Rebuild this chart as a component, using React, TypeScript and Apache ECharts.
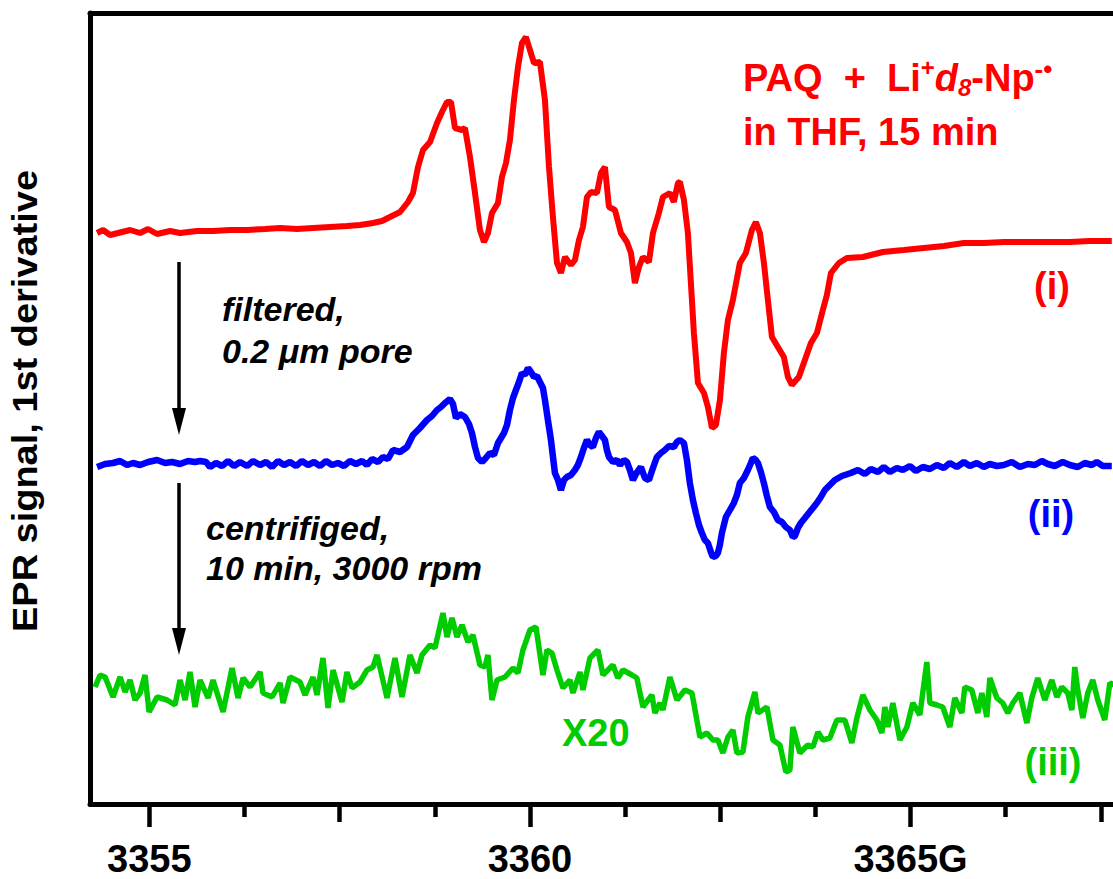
import React, { useEffect, useRef } from "react";
import * as echarts from "echarts";

const FONT = '"Liberation Sans", Arial, Helvetica, sans-serif';

// Magnetic field (G) and EPR signal (arbitrary units, offset per trace)
const redTrace: [number, number][] = [
  [3354.313,57.1],[3354.392,57.4],[3354.484,56.9],[3354.747,57.4],[3354.878,57.1],[3354.983,57.5],[3355.101,57.0],[3355.272,57.3],[3355.403,57.1],[3355.626,57.3],[3355.837,57.3],[3356.060,57.4],[3356.283,57.4],[3356.520,57.5],[3356.717,57.6],[3356.940,57.5],[3357.150,57.6],[3357.373,57.7],[3357.597,57.8],[3357.767,57.9],[3357.938,58.1],[3358.056,58.3],[3358.161,58.7],[3358.293,59.2],[3358.398,60.2],[3358.463,61.1],[3358.529,63.7],[3358.595,65.4],[3358.687,66.2],[3358.779,68.1],[3358.844,69.2],[3358.910,70.2],[3358.963,70.2],[3359.015,67.6],[3359.107,67.4],[3359.146,67.6],[3359.212,64.7],[3359.278,61.1],[3359.343,57.4],[3359.396,56.2],[3359.449,57.1],[3359.501,59.1],[3359.580,60.1],[3359.632,62.7],[3359.685,64.1],[3359.737,66.4],[3359.790,70.4],[3359.843,73.7],[3359.895,76.1],[3359.948,76.7],[3360.000,75.4],[3360.053,74.1],[3360.131,74.2],[3360.197,70.4],[3360.250,63.7],[3360.302,58.7],[3360.355,54.1],[3360.407,53.1],[3360.460,54.7],[3360.539,53.9],[3360.591,54.4],[3360.644,56.4],[3360.696,57.7],[3360.749,60.7],[3360.801,61.2],[3360.880,61.1],[3360.933,63.1],[3360.985,63.7],[3361.038,59.7],[3361.117,59.4],[3361.195,57.1],[3361.274,56.2],[3361.327,55.1],[3361.379,52.1],[3361.432,53.7],[3361.484,54.7],[3361.563,54.2],[3361.616,57.1],[3361.694,59.1],[3361.747,60.7],[3361.839,61.1],[3361.891,60.2],[3361.944,62.1],[3361.970,62.2],[3362.023,60.4],[3362.075,57.1],[3362.128,50.4],[3362.154,47.1],[3362.207,42.1],[3362.286,41.1],[3362.338,39.7],[3362.391,37.6],[3362.443,37.9],[3362.496,40.4],[3362.548,45.1],[3362.601,48.4],[3362.666,50.4],[3362.758,54.1],[3362.837,55.1],[3362.916,57.4],[3362.968,58.2],[3363.021,57.1],[3363.074,54.1],[3363.126,50.4],[3363.179,46.7],[3363.257,45.7],[3363.336,44.7],[3363.389,42.7],[3363.441,41.9],[3363.533,42.7],[3363.612,44.4],[3363.691,46.1],[3363.770,47.1],[3363.848,49.4],[3363.901,50.9],[3363.954,53.1],[3364.059,54.1],[3364.164,54.6],[3364.374,54.7],[3364.637,55.2],[3364.912,55.4],[3365.175,55.6],[3365.438,55.8],[3365.700,56.1],[3365.963,56.1],[3366.226,56.2],[3366.502,56.2],[3366.764,56.2],[3367.093,56.2],[3367.355,56.3],[3367.644,56.3]
];

const blueTrace: [number, number][] = [
  [3354.313,33.7],[3354.418,34.0],[3354.523,34.1],[3354.615,34.3],[3354.707,33.9],[3354.786,34.1],[3354.878,33.9],[3354.983,34.2],[3355.101,34.4],[3355.206,34.1],[3355.298,34.2],[3355.403,34.0],[3355.508,34.3],[3355.600,34.2],[3355.666,34.3],[3355.745,34.2],[3355.797,33.7],[3355.876,34.1],[3355.955,33.8],[3356.034,34.3],[3356.112,33.8],[3356.191,34.2],[3356.283,33.8],[3356.362,34.3],[3356.454,33.9],[3356.533,34.2],[3356.611,33.7],[3356.690,34.3],[3356.769,33.9],[3356.848,34.2],[3356.927,33.8],[3357.005,34.3],[3357.084,33.9],[3357.163,34.2],[3357.242,33.8],[3357.321,34.3],[3357.399,33.9],[3357.478,34.1],[3357.557,33.8],[3357.636,34.3],[3357.715,34.0],[3357.794,34.3],[3357.859,33.9],[3357.925,34.5],[3358.004,34.2],[3358.069,34.7],[3358.135,34.5],[3358.201,35.4],[3358.293,35.2],[3358.385,35.7],[3358.463,36.9],[3358.555,37.6],[3358.647,38.4],[3358.713,38.8],[3358.779,39.4],[3358.831,39.7],[3358.884,40.1],[3358.949,40.5],[3358.989,40.0],[3359.028,38.6],[3359.081,39.0],[3359.146,38.7],[3359.199,38.0],[3359.238,37.1],[3359.278,35.7],[3359.317,34.6],[3359.370,34.2],[3359.409,34.5],[3359.475,35.1],[3359.527,34.9],[3359.580,36.1],[3359.659,37.1],[3359.698,37.9],[3359.737,39.4],[3359.777,40.6],[3359.816,41.4],[3359.856,42.2],[3359.895,43.1],[3359.934,42.9],[3359.974,43.6],[3360.013,43.2],[3360.053,42.7],[3360.092,42.8],[3360.131,42.2],[3360.171,41.6],[3360.197,40.4],[3360.236,38.4],[3360.276,36.4],[3360.328,33.1],[3360.368,32.4],[3360.407,31.4],[3360.447,32.4],[3360.486,32.7],[3360.539,32.9],[3360.591,33.4],[3360.630,33.9],[3360.670,34.7],[3360.709,35.6],[3360.749,36.4],[3360.788,35.9],[3360.827,35.7],[3360.867,36.6],[3360.906,37.2],[3360.946,36.8],[3360.985,36.4],[3361.011,35.4],[3361.038,34.7],[3361.090,34.2],[3361.143,34.4],[3361.182,33.9],[3361.235,34.4],[3361.274,34.2],[3361.313,33.4],[3361.353,32.4],[3361.392,33.0],[3361.458,33.7],[3361.510,32.6],[3361.563,32.4],[3361.616,33.6],[3361.668,34.7],[3361.721,35.1],[3361.773,35.4],[3361.826,35.8],[3361.891,35.7],[3361.931,36.2],[3361.970,36.4],[3362.023,36.1],[3362.062,34.4],[3362.101,32.1],[3362.141,30.4],[3362.180,29.1],[3362.220,27.9],[3362.259,27.1],[3362.298,26.4],[3362.338,26.1],[3362.377,25.2],[3362.404,24.7],[3362.443,24.8],[3362.469,25.1],[3362.495,25.9],[3362.522,27.1],[3362.548,27.9],[3362.574,28.7],[3362.627,29.4],[3362.679,30.1],[3362.719,30.9],[3362.758,32.1],[3362.811,32.6],[3362.863,33.4],[3362.903,34.1],[3362.929,34.6],[3362.968,34.4],[3362.995,34.1],[3363.034,33.2],[3363.073,32.1],[3363.113,30.8],[3363.152,29.7],[3363.205,29.2],[3363.257,28.4],[3363.310,28.2],[3363.362,27.7],[3363.415,27.4],[3363.454,26.7],[3363.481,26.8],[3363.520,27.6],[3363.559,28.1],[3363.612,28.6],[3363.664,29.1],[3363.717,29.6],[3363.769,30.1],[3363.822,30.7],[3363.875,31.4],[3363.940,31.9],[3364.006,32.4],[3364.098,32.8],[3364.216,33.1],[3364.308,33.4],[3364.400,33.0],[3364.479,33.5],[3364.571,33.2],[3364.649,33.7],[3364.728,33.2],[3364.820,33.6],[3364.899,33.4],[3364.991,33.8],[3365.070,33.3],[3365.162,33.7],[3365.254,33.5],[3365.346,33.9],[3365.437,33.6],[3365.516,34.1],[3365.608,33.7],[3365.700,34.2],[3365.779,33.8],[3365.871,34.1],[3365.963,33.7],[3366.042,34.0],[3366.134,33.8],[3366.226,33.9],[3366.331,34.2],[3366.436,33.7],[3366.541,34.0],[3366.633,33.9],[3366.725,34.3],[3366.803,34.0],[3366.895,33.8],[3367.000,34.2],[3367.092,33.9],[3367.197,33.7],[3367.289,34.1],[3367.381,33.9],[3367.447,34.2],[3367.526,33.8],[3367.644,33.8]
];

const greenTrace: [number, number][] = [
  [3354.287,11.7],[3354.352,12.9],[3354.418,12.7],[3354.523,10.7],[3354.615,12.7],[3354.681,11.2],[3354.746,12.4],[3354.812,10.4],[3354.878,11.1],[3354.943,12.9],[3354.996,9.2],[3355.101,10.7],[3355.232,10.4],[3355.337,9.9],[3355.403,12.4],[3355.469,10.4],[3355.534,13.2],[3355.600,9.7],[3355.666,12.4],[3355.771,10.6],[3355.836,12.4],[3355.968,9.2],[3356.086,13.6],[3356.165,10.6],[3356.231,12.6],[3356.323,11.7],[3356.454,13.2],[3356.493,11.1],[3356.611,10.7],[3356.717,12.1],[3356.756,10.1],[3356.848,12.7],[3356.979,12.2],[3357.045,10.9],[3357.150,12.7],[3357.202,10.9],[3357.281,14.6],[3357.347,9.6],[3357.413,13.4],[3357.531,10.2],[3357.596,13.2],[3357.662,11.6],[3357.767,12.2],[3357.859,13.4],[3357.938,13.7],[3357.991,14.9],[3358.122,10.6],[3358.227,14.6],[3358.319,10.7],[3358.424,14.9],[3358.516,13.1],[3358.582,14.9],[3358.687,15.9],[3358.752,15.6],[3358.857,19.1],[3358.910,16.7],[3358.976,18.6],[3359.041,16.7],[3359.107,17.9],[3359.186,16.2],[3359.251,16.9],[3359.343,13.9],[3359.409,13.7],[3359.448,14.9],[3359.501,10.4],[3359.567,12.4],[3359.672,12.7],[3359.777,13.6],[3359.842,13.1],[3359.908,15.4],[3360.000,17.4],[3360.079,17.7],[3360.171,12.9],[3360.223,15.4],[3360.289,15.1],[3360.355,13.4],[3360.433,11.6],[3360.525,12.4],[3360.565,11.1],[3360.657,13.2],[3360.696,11.4],[3360.788,14.6],[3360.893,15.4],[3360.959,12.9],[3361.090,13.9],[3361.156,12.6],[3361.221,13.4],[3361.340,12.9],[3361.405,12.6],[3361.484,9.7],[3361.602,10.9],[3361.642,9.1],[3361.707,10.1],[3361.747,9.4],[3361.839,12.7],[3361.931,10.4],[3362.036,11.4],[3362.128,11.1],[3362.233,6.7],[3362.325,7.1],[3362.404,6.4],[3362.469,6.4],[3362.535,5.1],[3362.601,6.7],[3362.666,7.4],[3362.719,5.1],[3362.798,5.2],[3362.863,8.7],[3362.955,11.2],[3362.995,9.1],[3363.113,9.7],[3363.192,6.4],[3363.284,5.9],[3363.362,3.2],[3363.415,3.4],[3363.454,7.7],[3363.546,5.1],[3363.651,5.9],[3363.717,5.7],[3363.783,7.2],[3363.848,6.4],[3363.940,6.6],[3364.032,8.4],[3364.137,8.4],[3364.229,6.1],[3364.295,8.6],[3364.374,10.9],[3364.466,9.4],[3364.557,8.4],[3364.623,7.1],[3364.663,9.7],[3364.702,7.7],[3364.768,10.1],[3364.860,6.4],[3364.952,7.7],[3365.030,10.1],[3365.122,8.9],[3365.214,14.2],[3365.254,10.1],[3365.346,9.9],[3365.424,9.7],[3365.516,7.7],[3365.582,10.6],[3365.674,9.1],[3365.713,11.7],[3365.805,11.4],[3365.884,9.1],[3365.937,11.1],[3366.002,8.7],[3366.042,12.6],[3366.134,10.6],[3366.212,10.1],[3366.278,9.1],[3366.344,10.1],[3366.436,11.1],[3366.528,8.1],[3366.593,10.6],[3366.672,12.6],[3366.764,10.4],[3366.856,12.4],[3366.922,10.7],[3366.987,11.7],[3367.066,11.1],[3367.119,9.4],[3367.158,13.7],[3367.197,11.4],[3367.263,8.6],[3367.329,11.1],[3367.394,12.4],[3367.460,10.4],[3367.552,8.4],[3367.618,12.1],[3367.683,11.9]
];

const majorTicks = [3355, 3360, 3365];
const midTicks = [3357.5, 3362.5, 3367.5];
const minorTicks = [3356.25, 3358.75, 3361.25, 3363.75, 3366.25];
const fieldMin = 3354.22;
const fieldMax = 3367.66;
const signalMin = 0;
const signalMax = 79.1;

const RED = "#ff0000";
const BLUE = "#0000ff";
const GREEN = "#00cc00";

function tickAxis(values: number[], len: number, labels: boolean, line: boolean) {
  return {
    type: "value",
    position: "bottom",
    min: fieldMin,
    max: fieldMax,
    axisLine: { show: line, onZero: false, lineStyle: { color: "#000", width: 5 } },
    splitLine: { show: false },
    axisTick: {
      show: true,
      customValues: values,
      length: len,
      inside: false,
      lineStyle: { color: "#000", width: 4.5 },
    },
    axisLabel: labels
      ? {
          show: true,
          customValues: values,
          margin: 36,
          fontSize: 38,
          fontWeight: "bold",
          fontFamily: FONT,
          color: "#000",
          formatter: (v: number) => (v === 3365 ? "3365G" : String(v)),
        }
      : { show: false },
  };
}

export default function App() {
  const ref = useRef<HTMLDivElement>(null);

  useEffect(() => {
    if (!ref.current) return;
    const chart = echarts.init(ref.current, null, { renderer: "svg" });
    const txt = (
      text: string,
      x: number,
      y: number,
      color: string,
      size: number,
      italic = false,
      align = "left"
    ) => ({
      type: "text",
      style: {
        text,
        x,
        y,
        fill: color,
        fontSize: size,
        fontWeight: "bold",
        fontStyle: italic ? "italic" : "normal",
        fontFamily: FONT,
        align,
        verticalAlign: "middle",
      },
    });
    const arrow = (x: number, y1: number, y2: number) => [
      {
        type: "line",
        shape: { x1: x, y1, x2: x, y2: y2 - 24 },
        style: { stroke: "#000", lineWidth: 3.5 },
      },
      {
        type: "polygon",
        shape: { points: [[x - 7, y2 - 27], [x + 7, y2 - 27], [x, y2]] },
        style: { fill: "#000" },
      },
    ];
    chart.setOption({
      animation: false,
      backgroundColor: "#fff",
      grid: {
        left: 90,
        top: 13,
        width: 1023,
        height: 791,
        show: false,
        containLabel: false,
      },
      xAxis: [
        tickAxis(majorTicks, 23, true, true),
        tickAxis(midTicks, 18, false, false),
        tickAxis(minorTicks, 13, false, false),
        {
          type: "value",
          position: "top",
          min: fieldMin,
          max: fieldMax,
          axisLine: { show: true, onZero: false, lineStyle: { color: "#000", width: 5 } },
          axisTick: { show: false },
          axisLabel: { show: false },
          splitLine: { show: false },
        },
      ],
      yAxis: {
        type: "value",
        min: signalMin,
        max: signalMax,
        axisLine: { show: true, onZero: false, lineStyle: { color: "#000", width: 5 } },
        axisTick: { show: false },
        axisLabel: { show: false },
        splitLine: { show: false },
      },
      series: [
        {
          type: "line",
          data: redTrace,
          showSymbol: false,
          lineStyle: { color: RED, width: 6 },
          itemStyle: { color: RED },
          z: 3,
        },
        {
          type: "line",
          data: blueTrace,
          showSymbol: false,
          lineStyle: { color: BLUE, width: 6.5 },
          itemStyle: { color: BLUE },
          z: 3,
        },
        {
          type: "line",
          data: greenTrace,
          showSymbol: false,
          lineStyle: { color: GREEN, width: 5.5 },
          itemStyle: { color: GREEN },
          z: 3,
        },
      ],
      graphic: [
        {
          type: "text",
          rotation: Math.PI / 2,
          x: 25,
          y: 401,
          scaleX: 1.085,
          style: {
            text: "EPR signal, 1st derivative",
            x: 0,
            y: 0,
            fill: "#000",
            fontSize: 35,
            fontWeight: "bold",
            fontFamily: FONT,
            align: "center",
            verticalAlign: "middle",
          },
        },
        {
          type: "text",
          style: {
            text: "{n|PAQ  +  Li}{sup|+}{it|d}{sub|8}{n|-Np}{sup2|-•}",
            x: 743,
            y: 55.5,
            align: "left",
            verticalAlign: "top",
            fill: RED,
            fontFamily: FONT,
            rich: {
              n: { fill: RED, fontSize: 38, fontWeight: "bold", fontFamily: FONT, lineHeight: 44 },
              it: { fill: RED, fontSize: 38, fontWeight: "bold", fontStyle: "italic", fontFamily: FONT, lineHeight: 44 },
              sup: { fill: RED, fontSize: 24, fontWeight: "bold", fontFamily: FONT, lineHeight: 18, verticalAlign: "top" },
              sub: { fill: RED, fontSize: 24, fontWeight: "bold", fontStyle: "italic", fontFamily: FONT, lineHeight: 14, verticalAlign: "bottom" },
              sup2: { fill: RED, fontSize: 26, fontWeight: "bold", fontFamily: FONT, lineHeight: 6, verticalAlign: "top" },
            },
          },
        },
        txt("in THF, 15 min", 743, 131.5, RED, 38),
        txt("(i)", 1052, 286, RED, 38, false, "center"),
        txt("(ii)", 1051, 514, BLUE, 38, false, "center"),
        txt("(iii)", 1053, 762, GREEN, 38, false, "center"),
        txt("X20", 562, 732.5, GREEN, 38),
        txt("filtered,", 222, 309, "#000", 34, true),
        txt("0.2 \u03bcm pore", 222, 351, "#000", 34, true),
        txt("centrifiged,", 206, 528, "#000", 34, true),
        txt("10 min, 3000 rpm", 206, 568, "#000", 34, true),
        ...arrow(179, 262, 435),
        ...arrow(179, 483, 655),
      ],
    });
    return () => chart.dispose();
  }, []);

  return (
    <div
      ref={ref}
      style={{ position: "fixed", left: 0, top: 0, width: 1113, height: 879, background: "#fff" }}
    />
  );
}
